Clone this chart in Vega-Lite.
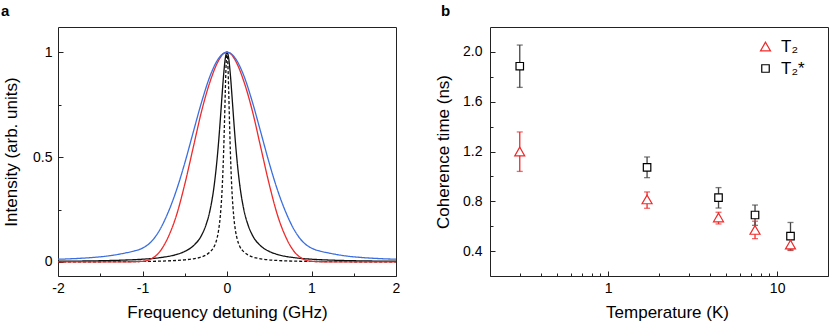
{
  "$schema": "https://vega.github.io/schema/vega-lite/v6.json",
  "padding": {"left": 0, "top": 3, "right": 0, "bottom": 0},
  "spacing": 33,
  "resolve": {
    "scale": {"color": "independent", "shape": "independent", "size": "independent", "strokeDash": "independent"},
    "legend": {"color": "independent", "shape": "independent", "size": "independent", "strokeDash": "independent"}
  },
  "config": {
    "font": "Liberation Sans",
    "view": {"stroke": "#222", "strokeWidth": 1},
    "axis": {"domain": false, "grid": false, "labelFontSize": 14, "titleFontSize": 17, "titleFontWeight": "normal", "labelColor": "#000", "titleColor": "#000", "tickColor": "#222", "tickWidth": 1, "labelFlush": false, "labelOverlap": false},
    "title": {"fontSize": 15, "fontWeight": "bold", "anchor": "start", "frame": "group", "offset": 8, "color": "#000"},
    "legend": {"labelFont": "Liberation Sans"}
  },
  "hconcat": [
    {
      "width": 338, "height": 249,
      "title": {"text": "a", "dx": -57},
      "data": {"values": [
        {"s": "dashed", "x": -2, "y": 0.0005}, {"s": "dashed", "x": -1.5, "y": 0.001}, {"s": "dashed", "x": -1, "y": 0.0025}, {"s": "dashed", "x": -0.7, "y": 0.005}, {"s": "dashed", "x": -0.5, "y": 0.01}, {"s": "dashed", "x": -0.4, "y": 0.015}, {"s": "dashed", "x": -0.3, "y": 0.024}, {"s": "dashed", "x": -0.25, "y": 0.033}, {"s": "dashed", "x": -0.2, "y": 0.048}, {"s": "dashed", "x": -0.15, "y": 0.075}, {"s": "dashed", "x": -0.12, "y": 0.11}, {"s": "dashed", "x": -0.1, "y": 0.15}, {"s": "dashed", "x": -0.08, "y": 0.216}, {"s": "dashed", "x": -0.06, "y": 0.329}, {"s": "dashed", "x": -0.05, "y": 0.414}, {"s": "dashed", "x": -0.04, "y": 0.524}, {"s": "dashed", "x": -0.03, "y": 0.662}, {"s": "dashed", "x": -0.02, "y": 0.815}, {"s": "dashed", "x": -0.01, "y": 0.946}, {"s": "dashed", "x": 0, "y": 1},
        {"s": "dashed", "x": 0.01, "y": 0.946}, {"s": "dashed", "x": 0.02, "y": 0.815}, {"s": "dashed", "x": 0.03, "y": 0.662}, {"s": "dashed", "x": 0.04, "y": 0.524}, {"s": "dashed", "x": 0.05, "y": 0.414}, {"s": "dashed", "x": 0.06, "y": 0.329}, {"s": "dashed", "x": 0.08, "y": 0.216}, {"s": "dashed", "x": 0.1, "y": 0.15}, {"s": "dashed", "x": 0.12, "y": 0.11}, {"s": "dashed", "x": 0.15, "y": 0.075}, {"s": "dashed", "x": 0.2, "y": 0.048}, {"s": "dashed", "x": 0.25, "y": 0.033}, {"s": "dashed", "x": 0.3, "y": 0.024}, {"s": "dashed", "x": 0.4, "y": 0.015}, {"s": "dashed", "x": 0.5, "y": 0.01}, {"s": "dashed", "x": 0.7, "y": 0.005}, {"s": "dashed", "x": 1, "y": 0.0025}, {"s": "dashed", "x": 1.5, "y": 0.001}, {"s": "dashed", "x": 2, "y": 0.0005},
        {"s": "black", "x": -2, "y": 0.0033}, {"s": "black", "x": -1.5, "y": 0.0058}, {"s": "black", "x": -1.25, "y": 0.0084}, {"s": "black", "x": -1, "y": 0.0131}, {"s": "black", "x": -0.8, "y": 0.0202}, {"s": "black", "x": -0.6, "y": 0.0354}, {"s": "black", "x": -0.5, "y": 0.0502}, {"s": "black", "x": -0.4, "y": 0.0763}, {"s": "black", "x": -0.3, "y": 0.128}, {"s": "black", "x": -0.25, "y": 0.175}, {"s": "black", "x": -0.2, "y": 0.248}, {"s": "black", "x": -0.15, "y": 0.37}, {"s": "black", "x": -0.12, "y": 0.479}, {"s": "black", "x": -0.1, "y": 0.569}, {"s": "black", "x": -0.08, "y": 0.674}, {"s": "black", "x": -0.06, "y": 0.786}, {"s": "black", "x": -0.04, "y": 0.892}, {"s": "black", "x": -0.02, "y": 0.971}, {"s": "black", "x": 0, "y": 1},
        {"s": "black", "x": 0.02, "y": 0.971}, {"s": "black", "x": 0.04, "y": 0.892}, {"s": "black", "x": 0.06, "y": 0.786}, {"s": "black", "x": 0.08, "y": 0.674}, {"s": "black", "x": 0.1, "y": 0.569}, {"s": "black", "x": 0.12, "y": 0.479}, {"s": "black", "x": 0.15, "y": 0.37}, {"s": "black", "x": 0.2, "y": 0.248}, {"s": "black", "x": 0.25, "y": 0.175}, {"s": "black", "x": 0.3, "y": 0.128}, {"s": "black", "x": 0.4, "y": 0.0763}, {"s": "black", "x": 0.5, "y": 0.0502}, {"s": "black", "x": 0.6, "y": 0.0354}, {"s": "black", "x": 0.8, "y": 0.0202}, {"s": "black", "x": 1, "y": 0.0131}, {"s": "black", "x": 1.25, "y": 0.0084}, {"s": "black", "x": 1.5, "y": 0.0058}, {"s": "black", "x": 2, "y": 0.0033},
        {"s": "red", "x": -2, "y": 0}, {"s": "red", "x": -1.4, "y": 0}, {"s": "red", "x": -1.2, "y": 0.0005}, {"s": "red", "x": -1, "y": 0.003}, {"s": "red", "x": -0.9, "y": 0.014}, {"s": "red", "x": -0.8, "y": 0.047}, {"s": "red", "x": -0.7, "y": 0.115}, {"s": "red", "x": -0.6, "y": 0.22}, {"s": "red", "x": -0.5, "y": 0.37}, {"s": "red", "x": -0.4, "y": 0.545}, {"s": "red", "x": -0.3, "y": 0.72}, {"s": "red", "x": -0.2, "y": 0.86}, {"s": "red", "x": -0.1, "y": 0.96}, {"s": "red", "x": -0.05, "y": 0.99}, {"s": "red", "x": 0, "y": 1},
        {"s": "red", "x": 0.05, "y": 0.99}, {"s": "red", "x": 0.1, "y": 0.96}, {"s": "red", "x": 0.2, "y": 0.86}, {"s": "red", "x": 0.3, "y": 0.72}, {"s": "red", "x": 0.4, "y": 0.545}, {"s": "red", "x": 0.5, "y": 0.37}, {"s": "red", "x": 0.6, "y": 0.22}, {"s": "red", "x": 0.7, "y": 0.115}, {"s": "red", "x": 0.8, "y": 0.047}, {"s": "red", "x": 0.9, "y": 0.014}, {"s": "red", "x": 1, "y": 0.003}, {"s": "red", "x": 1.2, "y": 0.0005}, {"s": "red", "x": 1.4, "y": 0}, {"s": "red", "x": 2, "y": 0},
        {"s": "blue", "x": -2, "y": 0.013}, {"s": "blue", "x": -1.8, "y": 0.016}, {"s": "blue", "x": -1.6, "y": 0.021}, {"s": "blue", "x": -1.4, "y": 0.029}, {"s": "blue", "x": -1.2, "y": 0.043}, {"s": "blue", "x": -1.1, "y": 0.052}, {"s": "blue", "x": -1, "y": 0.066}, {"s": "blue", "x": -0.9, "y": 0.095}, {"s": "blue", "x": -0.8, "y": 0.15}, {"s": "blue", "x": -0.7, "y": 0.233}, {"s": "blue", "x": -0.6, "y": 0.34}, {"s": "blue", "x": -0.5, "y": 0.471}, {"s": "blue", "x": -0.4, "y": 0.618}, {"s": "blue", "x": -0.3, "y": 0.763}, {"s": "blue", "x": -0.2, "y": 0.887}, {"s": "blue", "x": -0.1, "y": 0.97}, {"s": "blue", "x": -0.05, "y": 0.992}, {"s": "blue", "x": 0, "y": 1},
        {"s": "blue", "x": 0.05, "y": 0.992}, {"s": "blue", "x": 0.1, "y": 0.97}, {"s": "blue", "x": 0.2, "y": 0.887}, {"s": "blue", "x": 0.3, "y": 0.763}, {"s": "blue", "x": 0.4, "y": 0.618}, {"s": "blue", "x": 0.5, "y": 0.471}, {"s": "blue", "x": 0.6, "y": 0.34}, {"s": "blue", "x": 0.7, "y": 0.233}, {"s": "blue", "x": 0.8, "y": 0.15}, {"s": "blue", "x": 0.9, "y": 0.095}, {"s": "blue", "x": 1, "y": 0.066}, {"s": "blue", "x": 1.1, "y": 0.052}, {"s": "blue", "x": 1.2, "y": 0.043}, {"s": "blue", "x": 1.4, "y": 0.029}, {"s": "blue", "x": 1.6, "y": 0.021}, {"s": "blue", "x": 1.8, "y": 0.016}, {"s": "blue", "x": 2, "y": 0.013}
      ]},
      "mark": {"type": "line", "strokeWidth": 1.3, "interpolate": "monotone"},
      "encoding": {
        "x": {"field": "x", "type": "quantitative", "scale": {"domain": [-2, 2], "nice": false, "zero": false},
          "axis": {"title": "Frequency detuning (GHz)", "values": [-2, -1.5, -1, -0.5, 0, 0.5, 1, 1.5, 2],
            "labelExpr": "datum.value % 1 == 0 ? '' + datum.value : ''",
            "tickSize": {"condition": {"test": "datum.value % 1 == 0", "value": -5}, "value": -3},
            "labelPadding": 10, "titlePadding": 7}},
        "y": {"field": "y", "type": "quantitative", "scale": {"domain": [-0.067, 1.12], "nice": false, "zero": false},
          "axis": {"title": "Intensity (arb. units)", "values": [0, 0.25, 0.5, 0.75, 1],
            "labelExpr": "datum.value % 0.5 == 0 ? '' + datum.value : ''",
            "tickSize": {"condition": {"test": "datum.value % 0.5 == 0", "value": -5}, "value": -3},
            "labelPadding": 11, "titlePadding": 12}},
        "color": {"field": "s", "type": "nominal", "scale": {"domain": ["dashed", "black", "red", "blue"], "range": ["#111111", "#111111", "#ee2a2a", "#3b6fe0"]}, "legend": null},
        "strokeDash": {"field": "s", "type": "nominal", "scale": {"domain": ["dashed", "black", "red", "blue"], "range": [[3, 2], [1, 0], [1, 0], [1, 0]]}, "legend": null}
      }
    },
    {
      "width": 338, "height": 249,
      "title": {"text": "b", "dx": -49},
      "data": {"values": [
        {"s": "T₂*", "T": 0.3, "v": 1.885, "lo": 1.715, "hi": 2.055},
        {"s": "T₂*", "T": 1.7, "v": 1.073, "lo": 0.99, "hi": 1.156},
        {"s": "T₂*", "T": 4.5, "v": 0.83, "lo": 0.746, "hi": 0.91},
        {"s": "T₂*", "T": 7.4, "v": 0.69, "lo": 0.607, "hi": 0.77},
        {"s": "T₂*", "T": 12, "v": 0.52, "lo": 0.41, "hi": 0.63},
        {"s": "T₂", "T": 0.3, "v": 1.2, "lo": 1.04, "hi": 1.357},
        {"s": "T₂", "T": 1.7, "v": 0.815, "lo": 0.744, "hi": 0.875},
        {"s": "T₂", "T": 4.5, "v": 0.67, "lo": 0.618, "hi": 0.712},
        {"s": "T₂", "T": 7.4, "v": 0.57, "lo": 0.5, "hi": 0.64},
        {"s": "T₂", "T": 12, "v": 0.452, "lo": 0.405, "hi": 0.5}
      ]},
      "encoding": {
        "x": {"field": "T", "type": "quantitative", "scale": {"type": "log", "domain": [0.2, 20], "nice": false},
          "axis": {"title": "Temperature (K)", "values": [0.2, 0.3, 0.4, 0.5, 0.6, 0.7, 0.8, 0.9, 1, 2, 3, 4, 5, 6, 7, 8, 9, 10, 20],
            "labelExpr": "datum.value == 1 || datum.value == 10 ? '' + datum.value : ''",
            "tickSize": {"condition": {"test": "datum.value == 1 || datum.value == 10", "value": -5}, "value": -3},
            "labelPadding": 10, "titlePadding": 7, "titleX": 177}},
        "y": {"field": "v", "type": "quantitative", "scale": {"domain": [0.2, 2.2], "nice": false, "zero": false},
          "axis": {"title": "Coherence time (ns)", "values": [0.4, 0.6, 0.8, 1.0, 1.2, 1.4, 1.6, 1.8, 2.0],
            "labelExpr": "round(datum.value * 10) % 4 == 0 ? format(datum.value, '.1f') : ''",
            "tickSize": {"condition": {"test": "round(datum.value * 10) % 4 == 0", "value": -5}, "value": -3},
            "labelPadding": 13, "titlePadding": 10}}
      },
      "layer": [
        {"transform": [{"filter": "datum.s == 'T₂'"}],
         "mark": {"type": "rule", "strokeWidth": 1.3, "color": "#ee2a2a"},
         "encoding": {"y": {"field": "lo", "type": "quantitative"}, "y2": {"field": "hi"}}},
        {"transform": [{"filter": "datum.s == 'T₂*'"}],
         "mark": {"type": "rule", "strokeWidth": 1.3, "color": "#444444"},
         "encoding": {"y": {"field": "lo", "type": "quantitative"}, "y2": {"field": "hi"}}},
        {"transform": [{"filter": "datum.s == 'T₂'"}],
         "mark": {"type": "tick", "orient": "horizontal", "size": 6, "thickness": 1.3, "color": "#ee2a2a"},
         "encoding": {"y": {"field": "lo", "type": "quantitative"}}},
        {"transform": [{"filter": "datum.s == 'T₂'"}],
         "mark": {"type": "tick", "orient": "horizontal", "size": 6, "thickness": 1.3, "color": "#ee2a2a"},
         "encoding": {"y": {"field": "hi", "type": "quantitative"}}},
        {"transform": [{"filter": "datum.s == 'T₂*'"}],
         "mark": {"type": "tick", "orient": "horizontal", "size": 6, "thickness": 1.3, "color": "#444444"},
         "encoding": {"y": {"field": "lo", "type": "quantitative"}}},
        {"transform": [{"filter": "datum.s == 'T₂*'"}],
         "mark": {"type": "tick", "orient": "horizontal", "size": 6, "thickness": 1.3, "color": "#444444"},
         "encoding": {"y": {"field": "hi", "type": "quantitative"}}},
        {"transform": [{"filter": "datum.s == 'T₂'"}],
         "mark": {"type": "point", "filled": true, "color": "white", "opacity": 1, "shape": "triangle-up", "size": 100}},
        {"transform": [{"filter": "datum.s == 'T₂*'"}],
         "mark": {"type": "point", "filled": true, "color": "white", "opacity": 1, "shape": "square", "size": 56}},
        {"mark": {"type": "point", "filled": false, "strokeWidth": 1.2, "opacity": 1},
         "encoding": {
           "color": {"field": "s", "type": "nominal", "scale": {"domain": ["T₂", "T₂*"], "range": ["#ee2a2a", "#000000"]},
             "legend": {"title": null, "orient": "none", "legendX": 267, "legendY": 11, "labelFontSize": 17, "labelOffset": 7, "rowPadding": 4, "symbolStrokeWidth": 1.2, "labelColor": "#000"}},
           "shape": {"field": "s", "type": "nominal", "scale": {"domain": ["T₂", "T₂*"], "range": ["triangle-up", "square"]},
             "legend": {"title": null, "orient": "none", "legendX": 267, "legendY": 11, "labelFontSize": 17, "labelOffset": 7, "rowPadding": 4, "symbolStrokeWidth": 1.2, "labelColor": "#000"}},
           "size": {"field": "s", "type": "nominal", "scale": {"domain": ["T₂", "T₂*"], "range": [100, 56]},
             "legend": {"title": null, "orient": "none", "legendX": 267, "legendY": 11, "labelFontSize": 17, "labelOffset": 7, "rowPadding": 4, "symbolStrokeWidth": 1.2, "labelColor": "#000"}}
         }}
      ]
    }
  ]
}
